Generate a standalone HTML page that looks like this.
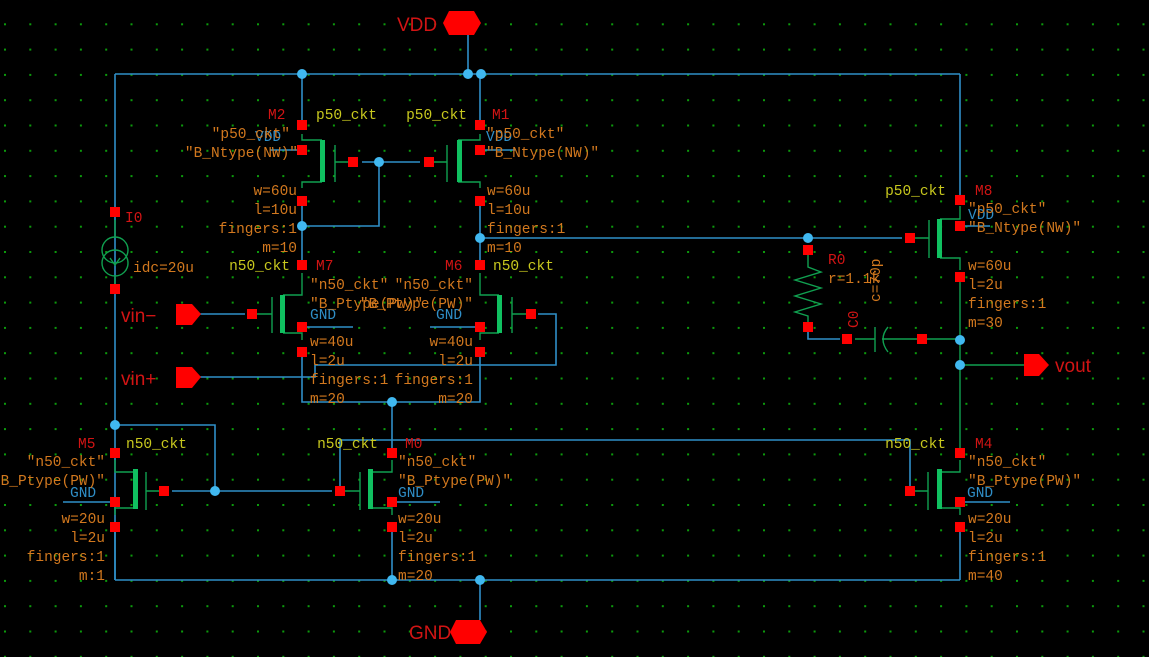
<!DOCTYPE html>
<html><head><meta charset="utf-8"><style>
html,body{margin:0;padding:0;background:#000;}
svg{display:block;}
text{font-family:"Liberation Mono",monospace;font-size:14.5px;}
.o{fill:#d2781e;} .y{fill:#c8c81e;} .r{fill:#d21414;} .c{fill:#2f8fc8;}
.e{text-anchor:end;}
.big{font-family:"Liberation Sans",sans-serif;font-size:19px;}
</style></head><body>
<svg width="1149" height="657" viewBox="0 0 1149 657" xmlns="http://www.w3.org/2000/svg">
<defs>
<pattern id="g" x="4" y="-2" width="25.3" height="25.3" patternUnits="userSpaceOnUse">
<rect x="0" y="0" width="2" height="2" fill="#0c9a0c"/></pattern>
</defs>
<rect width="1149" height="657" fill="#000"/>
<rect width="1149" height="657" fill="url(#g)"/>
<g stroke="#2f8fc8" stroke-width="1.6" fill="none">
<line x1="468" y1="35" x2="468" y2="74"/>
<line x1="115" y1="74" x2="960" y2="74"/>
<line x1="115" y1="74" x2="115" y2="580"/>
<line x1="302" y1="74" x2="302" y2="125"/>
<line x1="480" y1="74" x2="480" y2="125"/>
<line x1="960" y1="74" x2="960" y2="200"/>
<line x1="302" y1="150" x2="270" y2="150"/>
<line x1="480" y1="150" x2="515" y2="150"/>
<line x1="960" y1="226" x2="990" y2="226"/>
<line x1="302" y1="200" x2="302" y2="265"/>
<line x1="480" y1="200" x2="480" y2="265"/>
<polyline points="302,226 379,226 379,162"/>
<line x1="362" y1="162" x2="420" y2="162"/>
<line x1="480" y1="238" x2="902" y2="238"/>
<line x1="200" y1="314" x2="245" y2="314"/>
<polyline points="200,377 315,377 315,365 556,365 556,314 538,314"/>
<line x1="302" y1="327" x2="353" y2="327"/>
<line x1="430" y1="327" x2="480" y2="327"/>
<polyline points="302,352 302,402 480,402 480,352"/>
<line x1="392" y1="402" x2="392" y2="453"/>
<polyline points="115,425 215,425 215,491"/>
<line x1="172" y1="491" x2="332" y2="491"/>
<polyline points="340,491 340,440 910,440 910,491"/>
<line x1="115" y1="502" x2="63" y2="502"/>
<line x1="392" y1="502" x2="440" y2="502"/>
<line x1="960" y1="502" x2="1010" y2="502"/>
<line x1="115" y1="527" x2="115" y2="580"/>
<line x1="392" y1="527" x2="392" y2="580"/>
<line x1="960" y1="527" x2="960" y2="580"/>
<line x1="115" y1="580" x2="960" y2="580"/>
<line x1="480" y1="580" x2="480" y2="620"/>
<polyline points="808,327 808,339 840,339"/>
</g>
<g stroke="#10a050" stroke-width="1.4" fill="none">
<polyline points="302,134 302,140 322,140"/><polyline points="302,188 302,182 322,182"/>
<line x1="335" y1="145" x2="335" y2="182"/><line x1="335" y1="162" x2="353" y2="162"/>
<polyline points="480,134 480,140 458,140"/><polyline points="480,188 480,182 458,182"/>
<line x1="447" y1="145" x2="447" y2="182"/><line x1="428" y1="162" x2="447" y2="162"/>
<polyline points="302,273 302,295 283,295"/><polyline points="302,340 302,333 283,333"/>
<line x1="272" y1="297" x2="272" y2="333"/><line x1="252" y1="314" x2="272" y2="314"/>
<polyline points="480,273 480,295 499,295"/><polyline points="480,340 480,333 499,333"/>
<line x1="512" y1="297" x2="512" y2="333"/><line x1="512" y1="314" x2="531" y2="314"/>
<polyline points="115,460 115,472 135,472"/><polyline points="115,515 115,508 135,508"/>
<line x1="146" y1="472" x2="146" y2="510"/><line x1="146" y1="491" x2="164" y2="491"/>
<polyline points="392,460 392,472 372,472"/><polyline points="392,515 392,508 372,508"/>
<line x1="360" y1="472" x2="360" y2="510"/><line x1="340" y1="491" x2="360" y2="491"/>
<polyline points="960,460 960,472 940,472"/><polyline points="960,515 960,508 940,508"/>
<line x1="928" y1="472" x2="928" y2="510"/><line x1="910" y1="491" x2="928" y2="491"/>
<polyline points="960,206 960,219 940,219"/><polyline points="960,270 960,258 940,258"/>
<line x1="929" y1="220" x2="929" y2="258"/><line x1="910" y1="238" x2="929" y2="238"/>
<line x1="960" y1="277" x2="960" y2="453"/>
<line x1="960" y1="365" x2="1025" y2="365"/>
<line x1="855" y1="339" x2="875" y2="339"/><line x1="875" y1="327" x2="875" y2="352"/>
<path d="M888,327 Q878,339 888,352"/><line x1="882" y1="339" x2="960" y2="339"/>
<polyline points="808,255 808,267 821,272 795,280 821,288 795,296 821,304 795,312 808,316 808,322"/>
<circle cx="115" cy="250" r="13"/><circle cx="115" cy="263" r="13"/>
<line x1="115" y1="220" x2="115" y2="237"/><line x1="115" y1="276" x2="115" y2="290"/>
<polyline points="110,258 115,265 120,258"/>
</g>
<g fill="#10c060">
<rect x="320" y="140" width="5" height="42"/><rect x="457" y="140" width="5" height="42"/>
<rect x="280" y="295" width="5" height="38"/><rect x="497" y="295" width="5" height="38"/>
<rect x="133" y="469" width="5" height="40"/><rect x="368" y="469" width="5" height="40"/>
<rect x="937" y="469" width="5" height="40"/><rect x="937" y="219" width="5" height="39"/>
</g>
<g fill="#ff0000">
<polygon points="449,11 474,11 481,23 474,35 449,35 443,23"/>
<polygon points="456,620 480,620 487,632 480,644 456,644 450,632"/>
<polygon points="176,304 192,304 201,314 192,325 176,325"/>
<polygon points="176,367 192,367 201,377 192,388 176,388"/>
<polygon points="1024,354 1039,354 1049,365 1039,376 1024,376"/>
<g>
<rect x="297" y="120" width="10" height="10"/><rect x="297" y="145" width="10" height="10"/><rect x="297" y="196" width="10" height="10"/>
<rect x="475" y="120" width="10" height="10"/><rect x="475" y="145" width="10" height="10"/><rect x="475" y="196" width="10" height="10"/>
<rect x="348" y="157" width="10" height="10"/><rect x="424" y="157" width="10" height="10"/>
<rect x="110" y="207" width="10" height="10"/><rect x="110" y="284" width="10" height="10"/>
<rect x="297" y="260" width="10" height="10"/><rect x="297" y="322" width="10" height="10"/><rect x="297" y="347" width="10" height="10"/>
<rect x="475" y="260" width="10" height="10"/><rect x="475" y="322" width="10" height="10"/><rect x="475" y="347" width="10" height="10"/>
<rect x="247" y="309" width="10" height="10"/><rect x="526" y="309" width="10" height="10"/>
<rect x="110" y="448" width="10" height="10"/><rect x="110" y="497" width="10" height="10"/><rect x="110" y="522" width="10" height="10"/>
<rect x="387" y="448" width="10" height="10"/><rect x="387" y="497" width="10" height="10"/><rect x="387" y="522" width="10" height="10"/>
<rect x="955" y="448" width="10" height="10"/><rect x="955" y="497" width="10" height="10"/><rect x="955" y="522" width="10" height="10"/>
<rect x="159" y="486" width="10" height="10"/><rect x="335" y="486" width="10" height="10"/><rect x="905" y="486" width="10" height="10"/>
<rect x="955" y="195" width="10" height="10"/><rect x="955" y="221" width="10" height="10"/><rect x="955" y="272" width="10" height="10"/>
<rect x="905" y="233" width="10" height="10"/>
<rect x="803" y="245" width="10" height="10"/><rect x="803" y="322" width="10" height="10"/>
<rect x="842" y="334" width="10" height="10"/><rect x="917" y="334" width="10" height="10"/>
</g></g>
<g fill="#40b8f0">
<circle cx="302" cy="74" r="5"/><circle cx="468" cy="74" r="5"/><circle cx="481" cy="74" r="5"/>
<circle cx="379" cy="162" r="5"/><circle cx="302" cy="226" r="5"/><circle cx="480" cy="238" r="5"/>
<circle cx="808" cy="238" r="5"/><circle cx="392" cy="402" r="5"/><circle cx="115" cy="425" r="5"/>
<circle cx="215" cy="491" r="5"/><circle cx="392" cy="580" r="5"/><circle cx="480" cy="580" r="5"/>
<circle cx="960" cy="340" r="5"/><circle cx="960" cy="365" r="5"/>
</g>
<text class="r big" x="397" y="31">VDD</text>
<text class="r big" x="409" y="639">GND</text>
<text class="r big" x="121" y="322">vin−</text>
<text class="r big" x="121" y="385">vin+</text>
<text class="r big" x="1055" y="372">vout</text>
<text class="r" x="268" y="119">M2</text><text class="r" x="492" y="119">M1</text>
<text class="r" x="125" y="222">I0</text><text class="r" x="316" y="270">M7</text><text class="r" x="445" y="270">M6</text>
<text class="r" x="78" y="448">M5</text><text class="r" x="405" y="448">M0</text><text class="r" x="975" y="448">M4</text>
<text class="r" x="975" y="195">M8</text><text class="r" x="828" y="264">R0</text>
<text class="r" x="858" y="328" transform="rotate(-90 858 328)">C0</text>
<text class="o" x="880" y="302" transform="rotate(-90 880 302)">c=70p</text>
<text class="y" x="316" y="119">p50_ckt</text><text class="y e" x="467" y="119">p50_ckt</text>
<text class="y e" x="290" y="270">n50_ckt</text><text class="y" x="493" y="270">n50_ckt</text>
<text class="y" x="126" y="448">n50_ckt</text><text class="y e" x="378" y="448">n50_ckt</text>
<text class="y e" x="946" y="448">n50_ckt</text><text class="y e" x="946" y="195">p50_ckt</text>
<text class="c" x="255" y="141" font-size="16">VDD</text><text class="c" x="486" y="141" font-size="16">VDD</text>
<text class="c" x="968" y="219" font-size="16">VDD</text>
<text class="c" x="310" y="319" font-size="16">GND</text><text class="c" x="436" y="319" font-size="16">GND</text>
<text class="c" x="70" y="497" font-size="16">GND</text><text class="c" x="398" y="497" font-size="16">GND</text>
<text class="c" x="967" y="497" font-size="16">GND</text>
<g class="o">
<text class="e" x="290" y="138">"p50_ckt"</text><text class="e" x="298" y="157">"B_Ntype(NW)"</text>
<text x="486" y="138">"p50_ckt"</text><text x="486" y="157">"B_Ntype(NW)"</text>
<text class="e" x="297" y="195">w=60u</text><text class="e" x="297" y="214">l=10u</text><text class="e" x="297" y="233">fingers:1</text><text class="e" x="297" y="252">m=10</text>
<text x="487" y="195">w=60u</text><text x="487" y="214">l=10u</text><text x="487" y="233">fingers:1</text><text x="487" y="252">m=10</text>
<text x="133" y="272">idc=20u</text>
<text x="310" y="289">"n50_ckt"</text><text class="e" x="473" y="289">"n50_ckt"</text>
<text x="310" y="308">"B_Ptype(PW)"</text><text class="e" x="473" y="308">"B_Ptype(PW)"</text>
<text x="310" y="346">w=40u</text><text x="310" y="365">l=2u</text><text x="310" y="384">fingers:1</text><text x="310" y="403">m=20</text>
<text class="e" x="473" y="346">w=40u</text><text class="e" x="473" y="365">l=2u</text><text class="e" x="473" y="384">fingers:1</text><text class="e" x="473" y="403">m=20</text>
<text class="e" x="105" y="466">"n50_ckt"</text><text class="e" x="105" y="485">"B_Ptype(PW)"</text>
<text class="e" x="105" y="523">w=20u</text><text class="e" x="105" y="542">l=2u</text><text class="e" x="105" y="561">fingers:1</text><text class="e" x="105" y="580">m:1</text>
<text x="398" y="466">"n50_ckt"</text><text x="398" y="485">"B_Ptype(PW)"</text>
<text x="398" y="523">w=20u</text><text x="398" y="542">l=2u</text><text x="398" y="561">fingers:1</text><text x="398" y="580">m=20</text>
<text x="968" y="466">"n50_ckt"</text><text x="968" y="485">"B_Ptype(PW)"</text>
<text x="968" y="523">w=20u</text><text x="968" y="542">l=2u</text><text x="968" y="561">fingers:1</text><text x="968" y="580">m=40</text>
<text x="968" y="213">"p50_ckt"</text><text x="968" y="232">"B_Ntype(NW)"</text>
<text x="968" y="270">w=60u</text><text x="968" y="289">l=2u</text><text x="968" y="308">fingers:1</text><text x="968" y="327">m=30</text>
<text x="828" y="283">r=1.1k</text>
</g>
</svg>
</body></html>
